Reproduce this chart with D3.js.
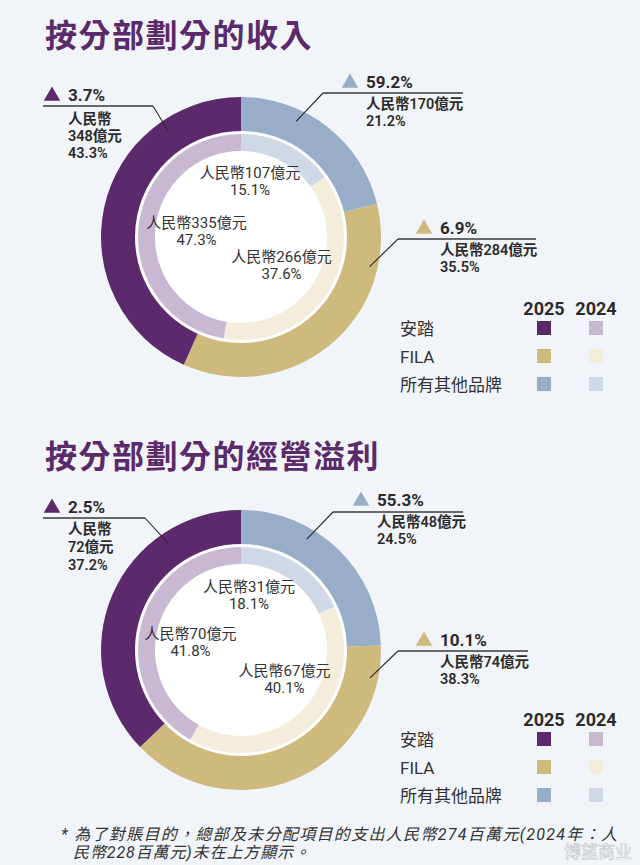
<!DOCTYPE html>
<html>
<head>
<meta charset="utf-8">
<script src="https://cdn.jsdelivr.net/npm/d3@7"></script>
<style>
  html, body { margin: 0; padding: 0; background: #f1f4f8; }
  svg text { font-family: Roboto, "Noto Sans CJK TC", sans-serif; fill: #2b2b2b; }
</style>
</head>
<body>
<div id="chart"></div>
<script>
// segment names and years
var segments = ["安踏", "FILA", "所有其他品牌"];
var years = ["2025", "2024"];

// revenue by segment (RMB 100m) and share %
var revenue2025 = [348, 284, 170];
var revenueShare2025 = [43.3, 35.5, 21.2];
var revenue2024 = [335, 266, 107];
var revenueShare2024 = [47.3, 37.6, 15.1];
var revenueGrowth = [3.7, 6.9, 59.2];

// operating profit by segment (RMB 100m) and share %
var profit2025 = [72, 74, 48];
var profitShare2025 = [37.2, 38.3, 24.5];
var profit2024 = [70, 67, 31];
var profitShare2024 = [41.8, 40.1, 18.1];
var profitGrowth = [2.5, 10.1, 55.3];

var colors2025 = ["#5c2a6c", "#cfba7e", "#98adc8"];
var colors2024 = ["#c9b8d2", "#f4eddb", "#d0d8e7"];

var svgWidth = 640;
var svgHeight = 865;

var svg = d3.select("#chart")
    .append("svg")
    .attr("width", svgWidth)
    .attr("height", svgHeight);

svg.append("rect")
    .attr("width", svgWidth)
    .attr("height", svgHeight)
    .attr("fill", "#f1f4f8");

var cx = 241;
var rOuter = 140, rOuterIn = 106;
var rInner = 103, rInnerIn = 86;

// layout for each panel (positions only)
var panels = [
    {
        title: "按分部劃分的收入", titleY: 47, cy: 237, legendY: 315,
        v25: revenue2025, s25: revenueShare2025, v24: revenue2024, s24: revenueShare2024, growth: revenueGrowth,
        callouts: [
            {angle: -34.5, r: 129, lineY: 106, x1: 43, x2: 153, knee: 153, tx: 68, headY: 101, rows: [124, 141, 158], split: true},
            {angle: 103, r: 132, lineY: 239, x1: 398, x2: 536, knee: 398, tx: 440, headY: 234, rows: [255, 272]},
            {angle: 25.5, r: 128, lineY: 93, x1: 323, x2: 463, knee: 323, tx: 366, headY: 88, rows: [109, 126]}
        ],
        inner: [[196.5, 228], [281.5, 262], [250, 178]]
    },
    {
        title: "按分部劃分的經營溢利", titleY: 468, cy: 650, legendY: 726,
        v25: profit2025, s25: profitShare2025, v24: profit2024, s24: profitShare2024, growth: profitGrowth,
        callouts: [
            {angle: -34.3, r: 129.5, lineY: 518, x1: 43, x2: 145, knee: 145, tx: 68, headY: 513, rows: [534, 552, 570], split: true},
            {angle: 102.2, r: 132, lineY: 651, x1: 398, x2: 528, knee: 398, tx: 440, headY: 646, rows: [667, 684]},
            {angle: 30.7, r: 129, lineY: 512, x1: 333, x2: 463, knee: 333, tx: 377, headY: 506, rows: [527, 544]}
        ],
        inner: [[190.5, 639], [284.5, 676], [249, 592]]
    }
];

// pie runs clockwise from 12 o'clock: others, FILA, Anta
var order = [2, 1, 0];

function slices(shares) {
    return d3.pie()
        .sort(null)
        .value(d => d.share)(order.map(i => ({idx: i, share: shares[i]})));
}

var toRad = Math.PI / 180;

panels.forEach(function(p) {
    // title
    svg.append("text")
        .attr("x", 45)
        .attr("y", p.titleY)
        .style("font-family", "'Noto Sans CJK TC', sans-serif")
        .style("font-size", "32px")
        .style("font-weight", 700)
        .style("letter-spacing", "1.5px")
        .style("fill", "#5a2a6b")
        .text(p.title);

    var g = svg.append("g")
        .attr("transform", `translate(${cx}, ${p.cy})`);

    g.append("circle")
        .attr("r", rOuterIn + 1)
        .attr("fill", "#ffffff");

    var outerArc = d3.arc().innerRadius(rOuterIn).outerRadius(rOuter);
    var innerArc = d3.arc().innerRadius(rInnerIn).outerRadius(rInner);

    g.selectAll("path.outer")
        .data(slices(p.s25))
        .enter()
        .append("path")
        .classed("outer", true)
        .attr("d", outerArc)
        .attr("fill", d => colors2025[d.data.idx]);

    g.selectAll("path.inner")
        .data(slices(p.s24))
        .enter()
        .append("path")
        .classed("inner", true)
        .attr("d", innerArc)
        .attr("fill", d => colors2024[d.data.idx]);

    // inner (2024) labels
    p.inner.forEach(function(pos, i) {
        svg.append("text")
            .attr("x", pos[0])
            .attr("y", pos[1])
            .style("font-size", "15px")
            .style("fill", "#333")
            .style("text-anchor", "middle")
            .text("人民幣" + p.v24[i] + "億元");
        svg.append("text")
            .attr("x", pos[0])
            .attr("y", pos[1] + 17)
            .style("font-size", "15px")
            .style("fill", "#333")
            .style("text-anchor", "middle")
            .text(p.s24[i].toFixed(1) + "%");
    });

    // outer (2025) callouts
    p.callouts.forEach(function(c, i) {
        var ex = cx + c.r * Math.sin(c.angle * toRad);
        var ey = p.cy - c.r * Math.cos(c.angle * toRad);

        svg.append("path")
            .attr("d", d3.line()([[c.x1, c.lineY], [c.x2, c.lineY]]))
            .attr("stroke", "#3a3a3a")
            .attr("stroke-width", 1.5)
            .attr("fill", "none");
        svg.append("path")
            .attr("d", d3.line()([[c.knee, c.lineY], [ex, ey]]))
            .attr("stroke", "#2a2a2a")
            .attr("stroke-width", 1.1)
            .attr("fill", "none");

        svg.append("path")
            .attr("d", d3.symbol(d3.symbolTriangle, 118)())
            .attr("transform", `translate(${c.tx - 16}, ${c.headY - 5})`)
            .attr("fill", colors2025[i]);

        svg.append("text")
            .attr("x", c.tx)
            .attr("y", c.headY)
            .style("font-size", "17px")
            .style("font-weight", 700)
            .text(p.growth[i].toFixed(1) + "%");

        var lines = c.split
            ? ["人民幣", p.v25[i] + "億元", p.s25[i].toFixed(1) + "%"]
            : ["人民幣" + p.v25[i] + "億元", p.s25[i].toFixed(1) + "%"];

        lines.forEach(function(l, k) {
            svg.append("text")
                .attr("x", c.tx)
                .attr("y", c.rows[k])
                .style("font-size", "14.5px")
                .style("font-weight", 600)
                .text(l);
        });
    });

    // legend
    var colX = [537, 589];
    years.forEach(function(y, k) {
        svg.append("text")
            .attr("x", colX[k] + 7)
            .attr("y", p.legendY)
            .style("font-size", "18px")
            .style("font-weight", 700)
            .style("text-anchor", "middle")
            .text(y);
    });
    segments.forEach(function(s, i) {
        var top = p.legendY + 6 + i * 28;
        svg.append("text")
            .attr("x", 400)
            .attr("y", top + 14)
            .style("font-size", "17px")
            .style("fill", "#333")
            .text(s);
        [colors2025, colors2024].forEach(function(cols, k) {
            svg.append("rect")
                .attr("x", colX[k])
                .attr("y", top)
                .attr("width", 14)
                .attr("height", 14)
                .attr("fill", cols[i]);
        });
    });
});

// footnote
var note = [
    ["* 為了對賬目的，總部及未分配項目的支出人民幣274百萬元(2024年：人", 61, 840, 556],
    ["民幣228百萬元)未在上方顯示。", 73, 858, 237]
];
note.forEach(function(n) {
    svg.append("text")
        .attr("x", n[1])
        .attr("y", n[2])
        .attr("textLength", n[3])
        .attr("lengthAdjust", "spacing")
        .style("font-size", "16px")
        .style("font-style", "italic")
        .style("fill", "#333")
        .text(n[0]);
});

// watermark
svg.append("text")
    .attr("x", 632)
    .attr("y", 858)
    .style("font-size", "17px")
    .style("text-anchor", "end")
    .style("fill", "#ffffff")
    .style("stroke", "#b9bcc2")
    .style("stroke-width", 0.6)
    .style("opacity", 0.85)
    .text("博望商业");
</script>
</body>
</html>
